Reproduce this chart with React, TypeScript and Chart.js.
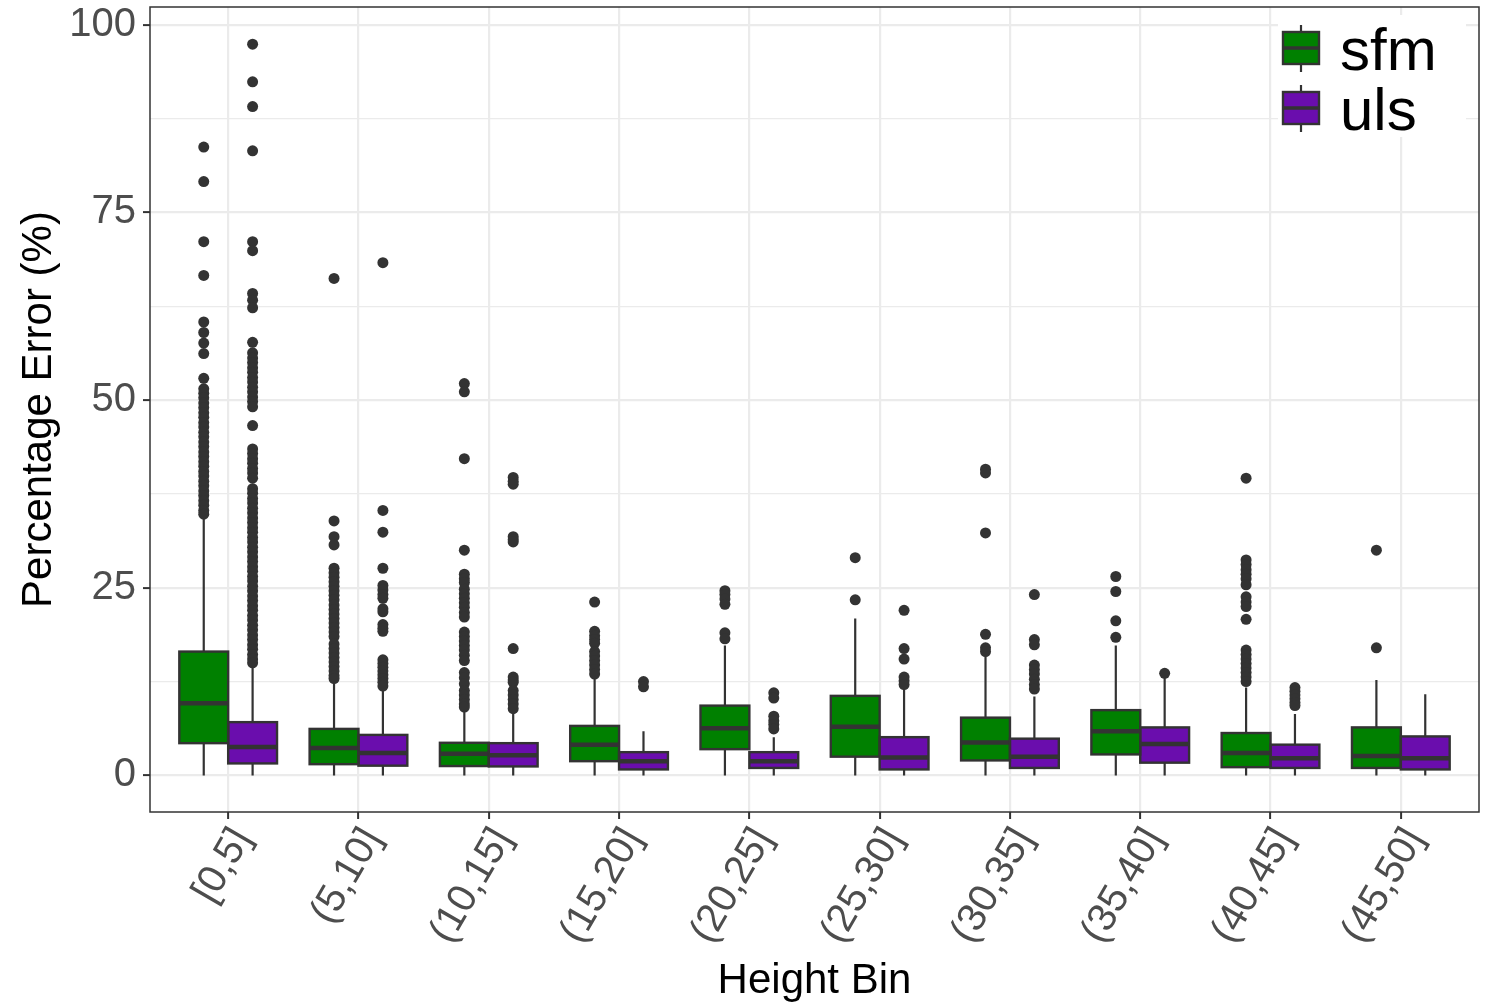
import React, { useEffect, useRef } from 'react';
import { Chart, registerables } from 'chart.js';

Chart.register(...registerables);

// ---------------- data ----------------
const categories = ['[0,5]', '(5,10]', '(10,15]', '(15,20]', '(20,25]', '(25,30]', '(30,35]', '(35,40]', '(40,45]', '(45,50]'];

const yTickValues = [0, 12.5, 25, 37.5, 50, 62.5, 75, 87.5, 100];

const sfmLow = [0, 0, 0, 0, 0, 0, 0, 0, 0, 0];
const sfmQ1 = [4.3, 1.5, 1.25, 1.9, 3.5, 2.5, 2.0, 2.8, 1.1, 1.0];
const sfmMedian = [9.6, 3.65, 2.9, 4.1, 6.3, 6.5, 4.4, 5.9, 3.0, 2.6];
const sfmQ3 = [16.5, 6.2, 4.35, 6.6, 9.3, 10.6, 7.7, 8.7, 5.65, 6.4];
const sfmHigh = [34.3, 12.4, 8.5, 13.0, 17.3, 20.9, 16.0, 17.3, 11.7, 12.7];
const sfmOutliers: number[][] = [
  [83.7, 79.1, 71.1, 66.6, 60.4, 59.0, 57.6, 56.2, 52.9, 51.5, 50.9, 50.3, 49.6, 49.0, 48.3, 47.7, 47.0, 46.4, 45.7, 45.1, 44.4, 43.8, 43.1, 42.5, 41.8, 41.2, 40.5, 39.9, 39.2, 38.6, 37.9, 37.3, 36.6, 36.0, 35.3, 34.8],
  [66.2, 33.9, 31.8, 30.7, 27.6, 27.0, 26.4, 25.8, 25.2, 24.6, 24.0, 23.4, 22.7, 22.1, 21.5, 20.9, 20.3, 19.7, 19.1, 18.5, 17.5, 16.9, 16.3, 15.7, 15.1, 14.5, 13.9, 13.3, 12.9],
  [52.2, 51.1, 42.2, 30.0, 26.8, 26.2, 25.7, 24.8, 24.2, 23.6, 23.0, 22.4, 21.7, 21.1, 19.1, 18.5, 17.9, 17.3, 16.7, 16.0, 15.3, 13.7, 13.0, 12.2, 11.3, 10.7, 10.1, 9.5, 9.1],
  [23.1, 19.2, 18.6, 18.1, 17.6, 16.5, 15.9, 15.3, 14.7, 14.1, 13.5],
  [24.6, 24.1, 23.5, 22.8, 19.0, 18.2],
  [29.0, 23.4],
  [40.8, 40.3, 32.3, 18.8, 17.0, 16.5],
  [26.5, 24.5, 20.6, 18.4],
  [39.6, 28.7, 28.1, 27.4, 26.8, 26.2, 25.4, 23.8, 23.1, 22.5, 20.8, 16.7, 16.1, 15.5, 14.9, 14.3, 13.7, 13.1, 12.5],
  [30.0, 17.0],
];

const ulsLow = [0, 0, 0, 0, 0, 0, 0, 0, 0, 0];
const ulsQ1 = [1.6, 1.3, 1.2, 0.8, 1.0, 0.8, 1.0, 1.7, 1.0, 0.8];
const ulsMedian = [3.8, 3.0, 2.7, 1.9, 1.9, 2.4, 2.5, 4.2, 2.3, 2.3];
const ulsQ3 = [7.1, 5.4, 4.3, 3.1, 3.1, 5.1, 4.9, 6.4, 4.1, 5.2];
const ulsHigh = [14.4, 11.3, 8.4, 5.9, 5.1, 11.6, 10.5, 13.0, 8.2, 10.8];
const ulsOutliers: number[][] = [
  [97.4, 92.4, 89.1, 83.2, 71.1, 69.9, 64.2, 63.3, 62.3, 57.7, 56.3, 55.6, 55.0, 54.3, 53.7, 53.0, 52.4, 51.7, 51.1, 50.4, 49.8, 49.1, 46.6, 43.5, 42.9, 42.2, 41.6, 40.9, 40.3, 39.6, 38.2, 37.6, 36.9, 36.3, 35.6, 35.0, 34.3, 33.7, 33.0, 32.4, 31.7, 31.1, 30.4, 29.8, 29.1, 28.5, 27.8, 27.2, 26.5, 25.9, 25.2, 24.6, 23.9, 23.3, 22.6, 22.0, 21.3, 20.7, 20.0, 19.4, 18.7, 18.1, 17.4, 16.8, 16.1, 15.5, 15.0],
  [68.3, 35.3, 32.4, 27.6, 25.3, 24.7, 24.1, 23.6, 22.2, 21.8, 20.1, 19.6, 19.2, 15.4, 14.9, 14.4, 13.9, 13.4, 12.9, 12.4, 11.9],
  [39.7, 39.2, 38.8, 31.8, 31.4, 31.1, 16.9, 13.1, 12.7, 12.4, 11.3, 10.7, 10.1, 9.5, 8.9],
  [12.5, 11.8],
  [11.0, 10.3, 7.9, 7.3, 6.8, 6.2],
  [22.0, 16.9, 15.5, 13.1, 12.6, 12.1],
  [24.1, 18.1, 17.4, 14.7, 14.1, 13.5, 12.8, 12.1, 11.5],
  [13.6],
  [11.7, 11.2, 10.7, 10.2, 9.7, 9.3],
  [],
];

// ---------------- styles ----------------
const SFM_COLOR = '#008000';
const ULS_COLOR = '#6A0DAD';
const INK = '#333333';
const GRID = '#EBEBEB';
const FONT = "'Liberation Sans', Arial, Helvetica, sans-serif";
const DODGE = 0.1875; // half of a dodged box width (0.75 / 2 / 2)

export default function App() {
  const canvasRef = useRef<HTMLCanvasElement>(null);

  useEffect(() => {
    document.body.style.margin = '0';
    const canvas = canvasRef.current;
    if (!canvas) return;

    const series = [
      { label: 'sfm', color: SFM_COLOR, low: sfmLow, q1: sfmQ1, median: sfmMedian, q3: sfmQ3, high: sfmHigh, outliers: sfmOutliers, shift: -DODGE },
      { label: 'uls', color: ULS_COLOR, low: ulsLow, q1: ulsQ1, median: ulsMedian, q3: ulsQ3, high: ulsHigh, outliers: ulsOutliers, shift: DODGE },
    ];

    const barSets: any[] = series.map((s) => ({
      type: 'bar',
      label: s.label,
      data: categories.map((_, i) => ({ x: i + 1, y: [s.q1[i], s.q3[i]] })),
      backgroundColor: s.color,
      borderColor: INK,
      borderWidth: 0,
      borderSkipped: false,
      categoryPercentage: 0.75,
      barPercentage: 1,
    }));

    const pointSets: any[] = series.map((s) => ({
      type: 'scatter',
      label: s.label + ' outliers',
      data: s.outliers.flatMap((vals, i) => vals.map((v) => ({ x: i + 1 + s.shift, y: v }))),
      pointRadius: 5.5,
      pointHoverRadius: 5.5,
      pointBackgroundColor: INK,
      pointBorderWidth: 0,
      showLine: false,
    }));

    const boxPlugin = {
      id: 'boxExtras',
      beforeDatasetsDraw(chart: any) {
        const ctx = chart.ctx;
        const y = chart.scales.y;
        ctx.save();
        ctx.strokeStyle = INK;
        ctx.lineWidth = 2.2;
        series.forEach((s, di) => {
          const meta = chart.getDatasetMeta(di);
          meta.data.forEach((bar: any, i: number) => {
            ctx.beginPath();
            ctx.moveTo(bar.x, y.getPixelForValue(s.q3[i]));
            ctx.lineTo(bar.x, y.getPixelForValue(s.high[i]));
            ctx.moveTo(bar.x, y.getPixelForValue(s.q1[i]));
            ctx.lineTo(bar.x, y.getPixelForValue(s.low[i]));
            ctx.stroke();
          });
        });
        ctx.restore();
      },
      afterDatasetsDraw(chart: any) {
        const ctx = chart.ctx;
        const y = chart.scales.y;
        ctx.save();
        ctx.strokeStyle = INK;
        series.forEach((s, di) => {
          const meta = chart.getDatasetMeta(di);
          meta.data.forEach((bar: any, i: number) => {
            // box outline, centred on the box edges
            const top = y.getPixelForValue(s.q3[i]);
            const bot = y.getPixelForValue(s.q1[i]);
            ctx.lineWidth = 2.4;
            ctx.strokeRect(bar.x - bar.width / 2, top, bar.width, bot - top);
            const py = y.getPixelForValue(s.median[i]);
            ctx.lineWidth = 4.5;
            ctx.beginPath();
            ctx.moveTo(bar.x - bar.width / 2, py);
            ctx.lineTo(bar.x + bar.width / 2, py);
            ctx.stroke();
          });
        });
        // panel border
        const a = chart.chartArea;
        ctx.lineWidth = 1.5;
        ctx.strokeRect(a.left, a.top, a.right - a.left, a.bottom - a.top);
        ctx.restore();
      },
      afterDraw(chart: any) {
        const ctx = chart.ctx;
        const a = chart.chartArea;
        ctx.save();
        ctx.fillStyle = '#FFFFFF';
        ctx.fillRect(a.right - 201, a.top + 8, 188, 122);
        series.forEach((s, k) => {
          const cy = a.top + 41 + k * 60;
          const bx = a.right - 196;
          const bw = 36;
          ctx.strokeStyle = INK;
          ctx.lineWidth = 2.2;
          ctx.beginPath();
          ctx.moveTo(bx + bw / 2, cy - 23);
          ctx.lineTo(bx + bw / 2, cy + 24);
          ctx.stroke();
          ctx.fillStyle = s.color;
          ctx.fillRect(bx, cy - 16, bw, 32);
          ctx.lineWidth = 2.4;
          ctx.strokeRect(bx, cy - 16, bw, 32);
          ctx.lineWidth = 3.5;
          ctx.beginPath();
          ctx.moveTo(bx, cy);
          ctx.lineTo(bx + bw, cy);
          ctx.stroke();
          ctx.fillStyle = '#000000';
          ctx.font = `60px ${FONT}`;
          ctx.textAlign = 'left';
          ctx.textBaseline = 'alphabetic';
          ctx.fillText(s.label, a.right - 139, cy + 22);
        });
        ctx.restore();
      },
    };

    const chart = new Chart(canvas, {
      type: 'bar',
      data: { datasets: [...barSets, ...pointSets] },
      options: {
        responsive: false,
        animation: false,
        devicePixelRatio: 1,
        layout: { padding: { top: 7, right: 6, left: 0, bottom: 0 } },
        plugins: { legend: { display: false }, tooltip: { enabled: false } },
        scales: {
          x: {
            type: 'linear',
            min: 0.4,
            max: 10.6,
            bounds: 'data',
            offset: false,
            grid: {
              offset: false,
              color: GRID,
              lineWidth: 2.2,
              tickColor: INK,
              tickWidth: 2,
              tickLength: 7,
              drawTicks: true,
            },
            border: { display: false },
            afterBuildTicks: (scale: any) => {
              scale.ticks = categories.map((_, i) => ({ value: i + 1 }));
            },
            afterFit: (scale: any) => {
              scale.height = 192;
              scale.paddingLeft = 0;
              scale.paddingRight = 0;
            },
            ticks: {
              autoSkip: false,
              minRotation: 60,
              maxRotation: 60,
              padding: 1,
              labelOffset: 14,
              color: '#4D4D4D',
              font: { family: FONT, size: 40 },
              callback: (v: any) => categories[Math.round(Number(v)) - 1] ?? '',
            },
            title: {
              display: true,
              text: 'Height Bin',
              color: '#000000',
              font: { family: FONT, size: 42, lineHeight: 1.0 },
              padding: { top: 0, bottom: 2 },
            },
          },
          y: {
            type: 'linear',
            min: -4.87,
            max: 102.36,
            bounds: 'data',
            beginAtZero: false,
            grid: {
              color: GRID,
              lineWidth: (c: any) => (c.tick && c.tick.value % 25 === 0 ? 2.2 : 1.2),
              tickColor: (c: any) => (c.tick && c.tick.value % 25 === 0 ? INK : 'rgba(0,0,0,0)'),
              tickWidth: 2,
              tickLength: 7,
              drawTicks: true,
            },
            border: { display: false },
            afterBuildTicks: (scale: any) => {
              scale.ticks = yTickValues.map((v) => ({ value: v }));
            },
            afterFit: (scale: any) => {
              scale.width = 150;
              scale.paddingTop = 0;
              scale.paddingBottom = 0;
            },
            ticks: {
              autoSkip: false,
              padding: 7,
              color: '#4D4D4D',
              font: { family: FONT, size: 40 },
              callback: (v: any) => (Number(v) % 25 === 0 ? String(v) : ''),
            },
            title: {
              display: true,
              text: 'Percentage Error (%)',
              color: '#000000',
              font: { family: FONT, size: 42, lineHeight: 1.2 },
              padding: { top: 14, bottom: 0 },
            },
          },
        },
      } as any,
      plugins: [boxPlugin],
    } as any);

    return () => {
      chart.destroy();
    };
  }, []);

  return (
    <div style={{ width: 1485, height: 1004 }}>
      <canvas ref={canvasRef} width={1485} height={1004} style={{ display: 'block' }} />
    </div>
  );
}
